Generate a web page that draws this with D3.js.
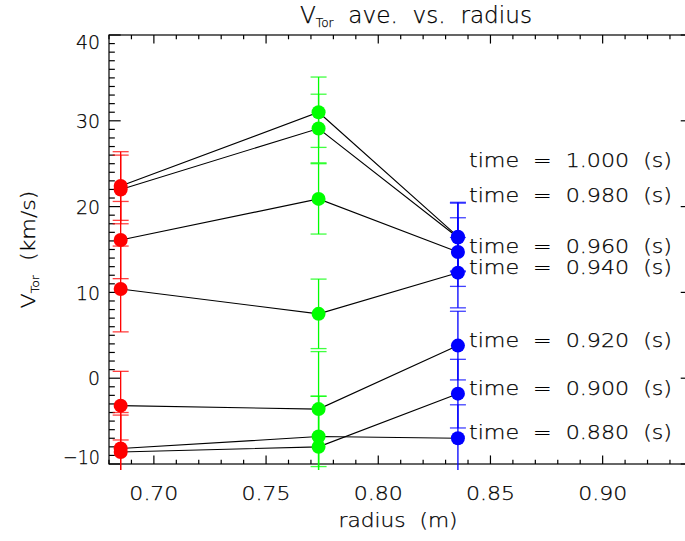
<!DOCTYPE html>
<html>
<head>
<meta charset="utf-8">
<script src="https://cdn.jsdelivr.net/npm/d3@7"></script>
<style>
  body { margin: 0; background: #fff; }
  text { font-family: "DejaVu Sans", sans-serif; font-weight: 200; fill: #000; stroke: #000; stroke-width: 0.25px; white-space: pre; }
</style>
</head>
<body>
<script>
// Toroidal velocity averaged per channel, one polyline per time slice
const radii = [0.6852, 0.7734, 0.8355];
const channelColors = ["#ff0000", "#00ff00", "#0000ff"];
const times = ["1.000", "0.980", "0.960", "0.940", "0.920", "0.900", "0.880"];

// values (km/s) at each radius, per time slice
const vInner  = [22.4, 22.0, 16.1, 10.4, -3.2, -8.6, -8.2];
const vMiddle = [31.0, 29.1, 20.9,  7.5, -3.6, -8.0, -6.8];
const vOuter  = [16.5, 16.4, 14.7, 12.3,  3.8, -1.8, -7.0];

// one-sigma errors (km/s)
const eInner  = [4.0, 4.0, 4.5, 5.0, 4.0, 4.3, 4.2];
const eMiddle = [4.1, 4.0, 4.1, 4.05, 6.7, 5.9, 4.7];
const eOuter  = [4.0, 4.0, 4.0, 4.1, 4.0, 4.0, 3.9];

// vertical anchor (km/s) of each time annotation
const labelAt = [24.7, 20.7, 14.7, 12.3, 3.8, -1.8, -7.0];

const xDomain = [0.68, 0.94];
const yDomain = [-10, 40];
const xMajor = [0.70, 0.75, 0.80, 0.85, 0.90];
const yMajor = [-10, 0, 10, 20, 30, 40];

const W = 685, H = 541;
const plot = { left: 109, right: 692.4, top: 35, bottom: 464 };

const svg = d3.select("body").append("svg")
  .attr("width", W).attr("height", H)
  .style("display", "block");

const x = d3.scaleLinear().domain(xDomain).range([plot.left, plot.right]);
const y = d3.scaleLinear().domain(yDomain).range([plot.bottom, plot.top]);

const plotW = plot.right - plot.left, plotH = plot.bottom - plot.top;
const xTickLen = 0.02 * plotH, yTickLen = 0.02 * plotW;
const xMinor = d3.range(0.68, 0.9401, 0.01).map(v => +v.toFixed(2));
const yMinor = d3.range(-10, 40.01, 1);

// error bars may run a little past the bottom of the frame
svg.append("defs").append("clipPath").attr("id", "errclip")
  .append("rect").attr("x", 0).attr("y", 0).attr("width", W).attr("height", plot.bottom + 6);

// frame
const axes = svg.append("g").attr("stroke", "#000").attr("stroke-width", 1.2).attr("fill", "none");
axes.append("rect")
  .attr("x", plot.left).attr("y", plot.top)
  .attr("width", plotW).attr("height", plotH);

const isMajorX = v => xMajor.some(m => Math.abs(m - v) < 1e-6);
const isMajorY = v => yMajor.some(m => Math.abs(m - v) < 1e-6);

// bottom / top ticks
xMinor.forEach(v => {
  const len = isMajorX(v) ? xTickLen : xTickLen / 2;
  const px = x(v);
  axes.append("line").attr("x1", px).attr("x2", px)
    .attr("y1", plot.bottom).attr("y2", plot.bottom - len);
  axes.append("line").attr("x1", px).attr("x2", px)
    .attr("y1", plot.top).attr("y2", plot.top + len);
});
// left / right ticks
yMinor.forEach(v => {
  const len = isMajorY(v) ? yTickLen : yTickLen / 2;
  const py = y(v);
  axes.append("line").attr("y1", py).attr("y2", py)
    .attr("x1", plot.left).attr("x2", plot.left + len);
  axes.append("line").attr("y1", py).attr("y2", py)
    .attr("x1", plot.right).attr("x2", plot.right - len);
});

// tick labels
const tickFont = 19.5;
svg.append("g").selectAll("text").data(xMajor).join("text")
  .attr("x", d => x(d)).attr("y", 500)
  .attr("text-anchor", "middle")
  .attr("font-size", tickFont)
  .attr("textLength", 49).attr("lengthAdjust", "spacingAndGlyphs")
  .text(d => d.toFixed(2));

const digitH = 14.2;
svg.append("g").selectAll("text").data(yMajor).join("text")
  .attr("x", 100)
  .attr("y", d => {
    const c = Math.min(Math.max(y(d), plot.top + digitH / 2), plot.bottom - digitH / 2);
    return c + digitH / 2;
  })
  .attr("text-anchor", "end")
  .attr("font-size", tickFont)
  .attr("textLength", d => (d < 0 ? 37 : d === 0 ? 12 : 24))
  .attr("lengthAdjust", "spacingAndGlyphs")
  .text(d => d < 0 ? "\u2212" + Math.abs(d) : String(d));

// axis titles
svg.append("text")
  .attr("x", 398).attr("y", 527)
  .attr("text-anchor", "middle").attr("font-size", tickFont)
  .attr("textLength", 119).attr("lengthAdjust", "spacingAndGlyphs")
  .text("radius  (m)");

const yTitle = svg.append("text")
  .attr("transform", `translate(35,${(plot.top + plot.bottom) / 2}) rotate(-90)`)
  .attr("text-anchor", "middle").attr("font-size", tickFont)
  .attr("textLength", 118).attr("lengthAdjust", "spacingAndGlyphs");
yTitle.append("tspan").text("V");
yTitle.append("tspan").attr("font-size", 11).attr("dy", 4).text("Tor");
yTitle.append("tspan").attr("dy", -4).text("  (km/s)");

const title = svg.append("text")
  .attr("x", 416).attr("y", 23)
  .attr("text-anchor", "middle").attr("font-size", 23)
  .attr("textLength", 232).attr("lengthAdjust", "spacingAndGlyphs");
title.append("tspan").text("V");
title.append("tspan").attr("font-size", 12).attr("dy", 4).text("Tor");
title.append("tspan").attr("dy", -4).text("  ave.  vs.  radius");

// series
const values = [vInner, vMiddle, vOuter];
const errors = [eInner, eMiddle, eOuter];
const series = times.map((t, i) => ({
  time: t,
  pts: radii.map((r, c) => ({ r, v: values[c][i], e: errors[c][i], color: channelColors[c] }))
}));

const line = d3.line().x(d => x(d.r)).y(d => y(d.v));
const capHalf = 8;

svg.append("g").selectAll("path").data(series).join("path")
  .attr("d", d => line(d.pts))
  .attr("fill", "none").attr("stroke", "#000").attr("stroke-width", 1.1);

const errG = svg.append("g").attr("clip-path", "url(#errclip)");
series.forEach(s => {
  s.pts.forEach(p => {
    const px = x(p.r);
    const g = errG.append("g").attr("stroke", p.color).attr("stroke-width", 1.3);
    g.append("line").attr("x1", px).attr("x2", px).attr("y1", y(p.v - p.e)).attr("y2", y(p.v + p.e));
    [p.v - p.e, p.v + p.e].forEach(ev => {
      g.append("line").attr("x1", px - capHalf).attr("x2", px + capHalf)
        .attr("y1", y(ev)).attr("y2", y(ev)).attr("stroke-opacity", 0.75);
    });
  });
});

const dotG = svg.append("g");
series.forEach(s => {
  dotG.selectAll(null).data(s.pts).join("circle")
    .attr("cx", d => x(d.r)).attr("cy", d => y(d.v)).attr("r", 7)
    .attr("fill", d => d.color);
});

// time annotations
svg.append("g").selectAll("text").data(series).join("text")
  .attr("x", 469).attr("y", (d, i) => y(labelAt[i]) + 1)
  .attr("font-size", tickFont)
  .attr("textLength", 203).attr("lengthAdjust", "spacingAndGlyphs")
  .text(d => `time  =  ${d.time}  (s)`);
</script>
</body>
</html>
